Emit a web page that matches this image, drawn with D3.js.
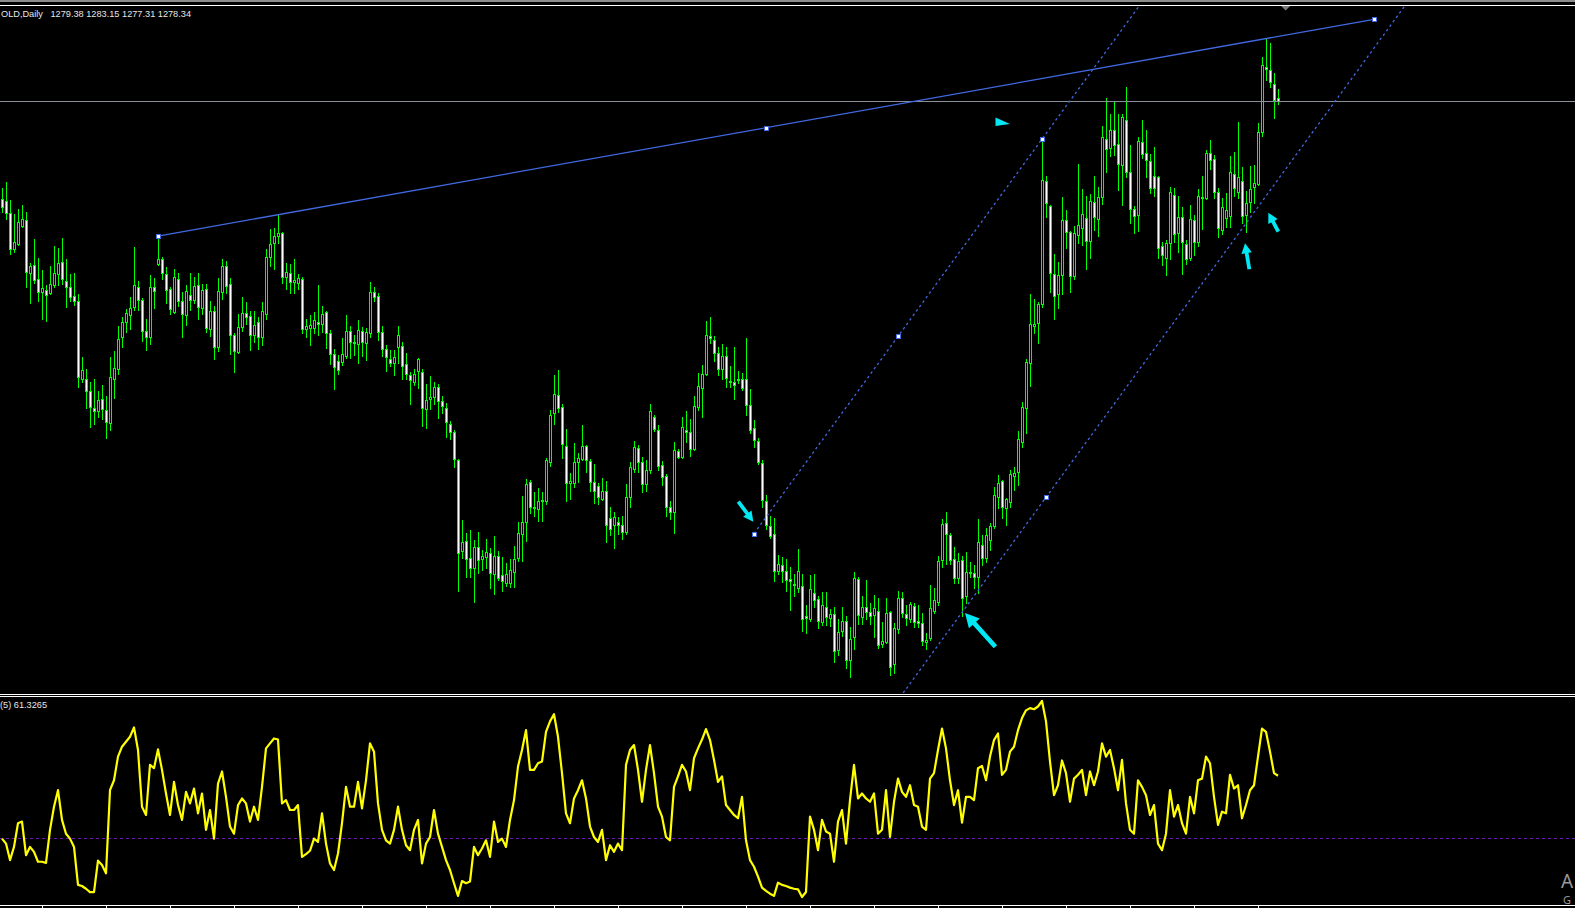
<!DOCTYPE html>
<html><head><meta charset="utf-8">
<script src="https://cdn.jsdelivr.net/npm/d3@7"></script>
<style>html,body{margin:0;padding:0;background:#000;overflow:hidden}svg{display:block}</style>
</head><body>
<svg id="c" width="1575" height="908"></svg>
<script>
// ---------- DATA ----------
const open = [
1239.1,1238.3,1233.5,1219.1,1221.1,1228.3,1230.7,1209.5,1212.7,1207.1,
1201.9,1202.7,1201.5,1204.7,1209.1,1213.9,1206.3,1203.9,1200.3,1198.3,
1167.1,1167.1,1162.3,1155.5,1154.3,1159.1,1154.7,1149.5,1167.1,1171.1,
1183.9,1189.9,1192.7,1195.9,1203.9,1198.7,1186.3,1183.9,1203.9,1213.1,
1215.1,1209.1,1203.1,1193.9,1207.1,1198.3,1192.7,1200.7,1198.7,1204.7,
1195.5,1203.1,1187.1,1194.3,1179.9,1201.9,1212.3,1205.1,1184.7,1177.9,
1187.9,1193.5,1192.3,1184.7,1189.9,1183.9,1193.1,1215.9,1221.5,1224.3,
1225.5,1207.9,1209.5,1205.9,1205.5,1207.1,1187.1,1187.5,1187.5,1189.9,
1189.1,1193.9,1185.5,1177.1,1174.3,1173.9,1176.3,1186.3,1181.9,1181.1,
1186.3,1181.5,1185.5,1201.9,1200.3,1185.9,1179.1,1175.1,1173.5,1179.9,
1180.3,1173.1,1168.7,1165.9,1170.3,1169.9,1155.1,1159.1,1159.9,1163.9,
1158.3,1155.5,1149.1,1145.9,1134.7,1098.3,1102.3,1095.5,1091.5,1099.9,
1095.1,1095.9,1097.5,1089.1,1096.3,1088.7,1085.5,1085.5,1089.9,1095.5,
1105.1,1109.9,1125.9,1115.9,1115.1,1118.3,1118.3,1133.9,1153.5,1160.7,
1155.9,1140.3,1125.5,1125.5,1133.9,1135.1,1140.3,1134.3,1125.9,1124.3,
1119.1,1122.3,1111.5,1108.7,1109.9,1108.7,1105.9,1119.9,1131.1,1139.5,
1133.9,1125.1,1130.7,1151.9,1146.7,1132.7,1128.3,1115.9,1113.9,1138.3,
1135.9,1146.7,1145.9,1139.1,1155.9,1163.5,1169.1,1184.3,1182.7,1177.5,
1171.1,1176.3,1166.3,1165.9,1166.7,1167.1,1167.1,1156.7,1147.5,1142.3,
1133.5,1118.3,1108.3,1105.1,1090.3,1092.7,1090.3,1087.1,1085.1,1083.5,
1084.3,1072.3,1071.1,1081.5,1079.1,1069.9,1075.9,1071.5,1073.1,1058.7,
1066.3,1070.3,1054.7,1063.9,1087.1,1071.9,1075.9,1073.9,1072.7,1074.3,
1061.1,1061.9,1073.9,1053.1,1067.1,1079.5,1073.1,1071.1,1076.3,1070.3,
1069.5,1061.9,1063.5,1074.3,1077.9,1094.7,1109.5,1104.7,1095.1,1087.5,
1094.7,1080.3,1089.9,1089.5,1087.9,1100.7,1095.5,1102.7,1108.3,1119.9,
1126.3,1115.5,1117.9,1128.3,1129.9,1141.9,1155.5,1173.5,1188.3,1189.5,
1197.1,1246.3,1236.3,1209.1,1201.1,1208.7,1230.7,1225.9,1208.3,1224.7,
1227.5,1231.5,1222.3,1237.9,1231.1,1239.9,1263.1,1259.5,1266.7,1261.1,
1252.7,1270.7,1249.9,1235.1,1232.7,1261.9,1257.5,1254.3,1248.3,1247.9,
1220.3,1215.5,1221.5,1240.7,1225.5,1231.9,1221.1,1215.5,1230.7,1221.9,
1239.9,1239.5,1257.5,1255.1,1241.9,1226.7,1231.5,1232.3,1249.1,1241.9,
1246.3,1232.7,1237.9,1243.9,1245.1,1265.9,1291.9,1290.7,1285.1,1279.38];
const high = [
1243.5,1245.9,1238.7,1233.1,1235.1,1236.7,1233.9,1213.5,1223.1,1215.5,
1210.7,1204.7,1212.3,1220.3,1219.5,1223.5,1215.1,1209.1,1209.5,1201.1,
1175.9,1171.1,1165.9,1167.1,1162.3,1164.7,1160.3,1175.9,1178.3,1188.3,
1191.9,1195.1,1199.9,1219.9,1206.3,1199.5,1191.1,1208.7,1207.5,1224.3,
1215.9,1211.9,1203.9,1211.1,1209.5,1201.9,1204.7,1209.5,1207.9,1209.5,
1205.1,1205.1,1198.3,1196.3,1207.5,1215.1,1214.3,1207.5,1185.5,1193.1,
1199.9,1197.9,1194.3,1194.3,1191.9,1197.9,1219.1,1227.1,1227.5,1232.7,
1225.9,1213.5,1213.1,1215.1,1209.1,1207.9,1191.1,1192.7,1193.9,1204.7,
1196.3,1194.3,1186.7,1179.1,1176.7,1183.5,1192.7,1188.3,1184.7,1190.7,
1187.9,1187.5,1205.9,1203.9,1201.5,1188.3,1180.7,1178.7,1178.7,1188.3,
1181.9,1177.5,1169.9,1171.1,1175.5,1171.1,1165.1,1168.3,1165.9,1165.1,
1160.3,1157.5,1150.3,1146.7,1135.1,1110.7,1105.5,1106.7,1102.7,1105.9,
1098.7,1103.1,1099.5,1104.3,1098.3,1095.9,1093.5,1095.1,1100.3,1109.9,
1120.3,1127.1,1126.7,1121.9,1123.5,1121.9,1135.5,1154.7,1168.7,1170.7,
1157.1,1147.1,1129.5,1141.5,1137.5,1148.7,1140.7,1135.1,1133.1,1125.5,
1127.5,1126.3,1115.9,1113.9,1111.9,1112.3,1125.1,1133.9,1142.3,1140.7,
1135.9,1134.7,1157.1,1152.7,1148.7,1134.3,1129.1,1118.3,1141.9,1139.1,
1151.9,1154.3,1151.1,1160.3,1169.5,1172.7,1190.3,1191.9,1184.3,1179.9,
1181.1,1179.9,1172.3,1179.9,1170.3,1169.5,1183.5,1163.1,1150.7,1143.5,
1134.7,1120.7,1112.3,1111.5,1096.7,1095.9,1095.1,1091.9,1089.1,1099.1,
1089.1,1076.7,1088.7,1089.1,1080.3,1081.9,1081.9,1075.1,1075.9,1071.1,
1075.9,1072.3,1067.9,1089.9,1087.9,1080.3,1086.7,1077.5,1080.7,1079.5,
1069.9,1079.5,1074.3,1069.5,1082.3,1081.9,1076.7,1077.9,1077.5,1076.7,
1073.5,1065.5,1084.7,1083.5,1096.3,1111.1,1113.9,1105.5,1099.9,1097.5,
1096.3,1097.9,1093.9,1092.7,1111.1,1104.7,1107.5,1109.5,1123.9,1128.7,
1126.7,1119.5,1130.7,1131.9,1146.3,1157.9,1175.1,1201.1,1199.1,1197.9,
1263.1,1248.3,1236.7,1217.1,1213.9,1239.9,1234.7,1226.3,1228.3,1253.1,
1243.1,1240.3,1241.1,1248.3,1243.9,1268.3,1279.5,1273.1,1277.9,1273.1,
1273.1,1283.9,1260.7,1236.3,1263.9,1270.7,1266.7,1257.1,1259.9,1248.3,
1221.9,1222.7,1243.9,1243.5,1240.3,1235.9,1222.7,1236.7,1232.7,1243.1,
1248.3,1258.7,1262.7,1256.7,1243.5,1239.5,1241.5,1256.3,1257.9,1269.9,
1251.9,1242.3,1252.3,1252.7,1269.5,1295.9,1303.1,1301.5,1289.5,1283.15];
const low = [
1233.9,1231.1,1217.1,1217.9,1220.7,1227.9,1203.9,1197.5,1205.5,1198.3,
1191.1,1190.3,1201.1,1203.9,1204.7,1205.1,1195.9,1198.3,1196.7,1163.9,
1165.9,1155.5,1147.9,1149.1,1151.9,1151.1,1143.5,1146.7,1159.5,1169.1,
1179.9,1185.9,1187.1,1194.7,1194.7,1182.3,1178.7,1181.1,1195.5,1212.7,
1207.1,1197.5,1193.1,1193.5,1196.3,1183.9,1188.7,1194.7,1197.5,1191.1,
1193.1,1185.9,1184.3,1175.1,1178.3,1199.1,1201.5,1177.1,1169.9,1177.5,
1186.3,1189.1,1178.7,1181.9,1179.1,1180.7,1191.1,1212.3,1211.1,1221.5,
1205.5,1203.1,1201.5,1201.5,1203.1,1185.5,1183.9,1180.7,1185.5,1184.7,
1185.9,1179.5,1173.1,1163.1,1169.1,1172.7,1175.5,1175.5,1176.7,1173.5,
1176.3,1174.7,1183.9,1198.3,1182.7,1176.3,1170.3,1172.3,1168.7,1173.5,
1167.1,1167.1,1157.1,1164.7,1163.5,1148.3,1147.5,1155.1,1157.1,1151.5,
1153.5,1143.9,1143.1,1131.9,1082.3,1095.5,1087.9,1087.9,1077.9,1089.5,
1090.7,1091.5,1083.5,1081.1,1086.7,1082.3,1084.3,1083.9,1083.9,1094.3,
1094.3,1102.3,1113.5,1112.3,1110.3,1110.3,1117.1,1132.3,1149.1,1153.9,
1135.5,1118.3,1119.1,1123.9,1125.9,1134.7,1129.9,1122.3,1117.5,1117.1,
1118.7,1101.9,1104.7,1099.5,1105.1,1103.1,1105.1,1115.9,1129.9,1129.9,
1121.9,1122.3,1129.5,1146.3,1130.7,1124.7,1112.3,1111.1,1105.5,1135.5,
1135.5,1141.9,1136.3,1138.7,1154.7,1151.9,1168.7,1181.5,1174.3,1168.7,
1167.1,1163.9,1163.9,1159.1,1165.5,1162.7,1152.7,1145.5,1139.9,1133.1,
1115.9,1107.1,1103.5,1086.3,1089.1,1085.9,1082.3,1074.7,1080.3,1081.9,
1066.3,1065.5,1070.3,1075.9,1067.5,1068.7,1068.7,1068.3,1053.9,1056.7,
1064.3,1051.5,1047.9,1059.1,1069.1,1069.1,1071.1,1069.1,1063.9,1059.5,
1059.9,1061.5,1048.7,1049.5,1065.5,1071.9,1068.7,1069.9,1067.9,1067.9,
1060.7,1059.1,1062.7,1073.5,1076.7,1091.9,1093.1,1093.1,1085.5,1085.5,
1072.3,1077.5,1087.9,1083.5,1081.5,1092.7,1093.9,1098.7,1107.5,1115.5,
1111.5,1108.7,1115.9,1122.7,1124.7,1139.9,1145.5,1164.3,1185.5,1181.5,
1195.9,1231.9,1201.9,1191.1,1195.5,1201.1,1219.5,1201.9,1207.1,1221.5,
1220.7,1211.1,1215.5,1226.7,1224.3,1237.1,1249.9,1256.3,1256.7,1242.7,
1236.7,1247.9,1229.5,1225.5,1226.3,1255.5,1247.9,1241.5,1240.3,1215.5,
1212.7,1208.7,1215.1,1221.9,1217.9,1209.1,1213.1,1214.7,1216.7,1220.3,
1227.1,1239.1,1251.1,1239.5,1223.9,1225.1,1227.9,1227.9,1240.3,1239.5,
1229.5,1225.9,1233.9,1237.5,1244.7,1264.3,1286.7,1283.9,1271.5,1277.31];
const close = [
1235.9,1233.5,1219.1,1221.9,1229.9,1231.1,1209.9,1212.3,1206.7,1201.9,
1203.5,1200.7,1205.1,1209.5,1213.5,1207.1,1203.9,1199.9,1198.3,1167.9,
1170.7,1162.3,1155.9,1154.3,1158.7,1155.1,1149.9,1167.9,1171.5,1183.1,
1189.9,1193.5,1195.5,1204.7,1198.7,1186.3,1183.9,1203.9,1202.3,1215.1,
1209.5,1202.7,1195.1,1207.9,1198.3,1193.1,1202.3,1198.7,1204.3,1195.9,
1202.7,1187.5,1194.3,1179.9,1202.3,1212.3,1204.3,1184.7,1178.3,1187.9,
1193.5,1191.9,1184.7,1188.7,1183.9,1194.3,1215.9,1221.1,1224.3,1225.5,
1207.9,1209.9,1205.9,1206.7,1207.5,1187.1,1188.3,1188.7,1190.7,1189.1,
1193.1,1185.5,1177.1,1171.9,1170.7,1177.1,1186.3,1181.9,1181.5,1186.7,
1181.9,1185.9,1201.9,1199.9,1185.9,1179.1,1175.9,1173.5,1175.9,1184.7,
1172.3,1169.1,1166.7,1169.1,1175.1,1155.5,1158.7,1159.9,1163.9,1158.3,
1156.3,1149.9,1145.9,1135.1,1097.5,1101.9,1095.1,1091.5,1099.9,1094.7,
1096.3,1097.9,1089.5,1096.3,1087.5,1086.3,1089.1,1090.7,1095.1,1105.5,
1109.9,1125.1,1115.9,1115.5,1118.3,1118.7,1134.7,1152.7,1161.1,1155.5,
1141.1,1125.5,1126.3,1133.9,1135.5,1140.3,1134.7,1125.9,1122.3,1119.9,
1122.3,1108.7,1107.1,1111.9,1108.7,1105.9,1119.9,1131.9,1139.9,1133.9,
1125.1,1130.7,1154.3,1147.1,1132.3,1127.9,1115.9,1113.9,1138.7,1135.9,
1147.9,1145.9,1139.1,1156.3,1164.3,1169.1,1184.7,1183.5,1177.5,1171.1,
1176.3,1167.5,1165.9,1164.7,1167.1,1163.5,1156.7,1146.7,1142.7,1133.9,
1118.7,1108.7,1104.3,1090.3,1093.1,1090.3,1086.7,1086.3,1084.7,1090.3,
1071.1,1071.5,1083.1,1078.7,1070.3,1076.7,1071.9,1073.1,1058.3,1065.9,
1070.3,1054.7,1063.1,1087.5,1072.7,1075.9,1073.9,1072.3,1075.5,1060.7,
1062.3,1073.5,1051.9,1067.5,1079.5,1073.5,1071.5,1077.1,1069.9,1069.5,
1062.3,1062.7,1075.5,1078.7,1094.3,1109.1,1105.1,1094.7,1087.5,1094.3,
1079.5,1089.9,1089.5,1087.9,1101.9,1095.5,1104.7,1108.3,1120.7,1125.5,
1115.9,1119.1,1129.1,1129.5,1143.1,1155.9,1173.9,1189.1,1189.1,1197.1,
1246.7,1237.5,1209.5,1200.3,1208.7,1230.7,1225.9,1208.3,1225.5,1228.7,
1233.1,1222.3,1238.3,1231.9,1239.9,1263.9,1259.1,1266.7,1260.7,1253.1,
1271.9,1249.9,1235.1,1232.3,1262.3,1257.1,1254.7,1243.5,1243.5,1219.5,
1216.7,1221.5,1241.9,1225.1,1231.9,1221.9,1215.1,1231.1,1221.9,1240.3,
1239.5,1257.5,1254.7,1241.9,1227.5,1235.9,1234.7,1249.9,1243.5,1247.9,
1232.3,1237.5,1243.1,1245.5,1265.9,1292.7,1291.1,1285.9,1278.7,1278.34];
const indicator = [
49.9,49.0,46.0,48.4,52.7,53.0,46.9,48.4,47.5,45.7,
45.7,45.5,51.5,55.7,58.7,53.3,50.8,49.9,48.4,41.5,
41.3,40.8,40.2,40.2,45.9,45.1,43.6,58.7,60.5,64.8,
66.6,67.5,68.4,70.1,66.0,55.7,54.2,63.3,62.7,66.1,
62.4,58.1,54.2,60.2,56.0,53.3,58.4,56.3,59.0,54.5,
58.1,51.5,55.1,49.9,59.9,62.1,57.5,52.1,50.8,56.0,
57.2,56.3,53.0,55.7,53.3,59.3,66.3,67.2,68.1,67.9,
56.3,56.9,55.1,55.1,56.0,46.6,47.1,47.7,49.9,49.3,
54.5,49.0,45.4,44.2,47.2,52.7,59.3,55.7,55.7,60.2,
55.4,60.5,67.2,65.7,56.3,51.5,49.6,49.0,51.5,55.7,
51.5,48.7,47.8,51.5,53.3,45.4,49.0,50.2,55.1,50.8,
48.4,46.0,44.2,41.8,39.5,42.2,41.8,42.1,48.4,46.9,
48.1,49.6,46.6,53.0,49.3,49.9,48.4,53.3,56.9,63.0,
66.0,69.6,62.4,62.4,63.6,63.9,69.3,71.2,72.5,68.4,
61.8,54.5,52.7,57.2,58.7,60.5,57.2,52.1,50.2,49.3,
51.5,46.0,48.7,47.5,49.0,47.8,63.3,66.0,66.9,62.4,
56.6,62.4,66.9,61.8,55.7,53.9,50.2,49.6,59.3,61.2,
63.3,62.1,58.7,64.5,66.3,67.9,69.8,67.8,64.2,60.2,
61.2,56.0,55.1,54.2,53.6,57.5,49.6,46.0,44.8,43.0,
41.0,40.4,39.9,39.5,41.9,41.5,41.3,41.0,40.8,40.7,
39.3,40.2,53.9,51.5,47.8,53.3,51.2,50.8,45.7,53.0,
55.1,49.0,56.9,63.3,57.2,58.1,57.2,56.6,58.1,50.8,
51.5,58.7,50.2,56.6,60.8,58.4,57.5,59.6,56.0,55.7,
52.1,51.5,60.8,61.8,66.0,69.9,66.3,60.5,56.0,58.7,
52.8,57.5,57.5,56.9,62.7,63.1,60.5,64.8,67.8,69.0,
61.5,62.4,65.7,66.6,69.6,71.8,73.2,73.6,73.4,73.9,
74.9,71.2,63.9,57.8,59.6,64.1,61.8,56.6,60.8,61.5,
62.4,57.8,62.1,59.6,62.1,67.2,64.8,66.0,62.7,58.7,
64.2,56.3,51.5,50.8,60.5,59.3,57.8,54.2,56.0,49.0,
47.8,50.8,58.7,53.9,56.0,52.7,50.8,57.5,54.5,60.5,
60.8,64.8,63.6,57.5,52.4,54.8,54.5,61.5,59.0,59.6,
53.6,56.0,58.7,59.6,64.8,69.9,69.3,65.7,61.8,61.3265];
const indicatorLevel = 50;
const timeTickIdx = d3.range(10, 320, 16);
const trendPoints = [[39, 1224.3], [343, 1311.0]];
const channelPoints = [[188, 1105.3], [260, 1263.1]];
const channelThird = [261, 1119.8];
const arrowsData = [
  [184.08, 1118.06, 187.83, 1110.06],
  [248.35, 1060.02, 240.75, 1073.54],
  [311.83, 1211.02, 310.75, 1221.42],
  [319.08, 1226.06, 316.58, 1233.66]];
const triangleMark = [[248.375, 1271.74], [252, 1269.14], [248.375, 1268.34]];
const shiftIdx = 320.9;
const headerSymbol = "OLD,Daily";
const headerOHLC = ["1279.38", "1283.15", "1277.31", "1278.34"];
const indicatorName = "(5)";
const watermarkTexts = ["A", "G"];

// ---------- DRAW ----------
const svg = d3.select("#c");
const W = 1575, H = 908;
svg.append("rect").attr("width", W).attr("height", H).attr("fill", "#000");

const x = d3.scaleLinear().domain([0, 319]).range([2, 1278]);
const y = d3.scaleLinear().domain([1318.74, 1041.14]).range([0, 694]);
const yi = d3.scaleLinear().domain(d3.extent(indicator)).range([897, 701]);

const defs = svg.append("defs");
defs.append("clipPath").attr("id", "mainClip").append("rect")
  .attr("x", 0).attr("y", 6).attr("width", W).attr("height", 688);
defs.append("clipPath").attr("id", "indClip").append("rect")
  .attr("x", 0).attr("y", 697).attr("width", W).attr("height", 208);

// top frame
svg.append("rect").attr("x", 0).attr("y", 0).attr("width", W).attr("height", 2).attr("fill", "#8c8c8c");
svg.append("rect").attr("x", 0).attr("y", 5).attr("width", W).attr("height", 1).attr("fill", "#ffffff");

const main = svg.append("g").attr("clip-path", "url(#mainClip)").attr("shape-rendering", "crispEdges");

// candles
const LIME = "#00ff00";
const cg = main.append("g");
open.forEach((o, i) => {
  const c = close[i];
  const cx = Math.round(x(i));
  const yh = Math.round(y(high[i])), yl = Math.round(y(low[i]));
  cg.append("rect").attr("x", cx).attr("y", yh).attr("width", 1).attr("height", Math.max(1, yl - yh + 1)).attr("fill", LIME);
  const top = Math.round(y(Math.max(o, c))), bot = Math.round(y(Math.min(o, c)));
  cg.append("rect").attr("x", cx - 1).attr("y", top).attr("width", 3).attr("height", Math.max(1, bot - top + 1)).attr("fill", LIME);
  if (bot - top >= 2) {
    cg.append("rect").attr("x", cx).attr("y", top + 1).attr("width", 1).attr("height", bot - top - 1)
      .attr("fill", c < o ? "#ffffff" : "#000000");
  }
});

// bid line
const lastClose = close[close.length - 1];
main.append("rect").attr("x", 0).attr("y", Math.round(y(lastClose))).attr("width", W).attr("height", 1).attr("fill", "#8a9099");

// trend line
const BLUE = "#4169e1";
const lines = svg.append("g").attr("clip-path", "url(#mainClip)");
lines.append("line")
  .attr("x1", x(trendPoints[0][0])).attr("y1", y(trendPoints[0][1]))
  .attr("x2", x(trendPoints[1][0])).attr("y2", y(trendPoints[1][1]))
  .attr("stroke", BLUE).attr("stroke-width", 1.3);

// channel
const slope = (channelPoints[1][1] - channelPoints[0][1]) / (channelPoints[1][0] - channelPoints[0][0]);
const farIdx = 420;
const upperEnd = channelPoints[0][1] + (farIdx - channelPoints[0][0]) * slope;
lines.append("line")
  .attr("x1", x(channelPoints[0][0])).attr("y1", y(channelPoints[0][1]))
  .attr("x2", x(farIdx)).attr("y2", y(upperEnd))
  .attr("stroke", BLUE).attr("stroke-width", 1.3).attr("stroke-dasharray", "2.5,3");
const lowStart = channelThird[1] + (channelPoints[0][0] - channelThird[0]) * slope;
const lowEnd = channelThird[1] + (farIdx - channelThird[0]) * slope;
lines.append("line")
  .attr("x1", x(channelPoints[0][0])).attr("y1", y(lowStart))
  .attr("x2", x(farIdx)).attr("y2", y(lowEnd))
  .attr("stroke", BLUE).attr("stroke-width", 1.3).attr("stroke-dasharray", "2.5,3");

// anchors
const mid = (a, b) => [(a[0] + b[0]) / 2, (a[1] + b[1]) / 2];
const anchors = [trendPoints[0], mid(trendPoints[0], trendPoints[1]), trendPoints[1],
  channelPoints[0], mid(channelPoints[0], channelPoints[1]), channelPoints[1], channelThird];
const ag = svg.append("g").attr("shape-rendering", "crispEdges");
anchors.forEach(p => {
  const px = Math.round(x(p[0])), py = Math.round(y(p[1]));
  ag.append("rect").attr("x", px - 2).attr("y", py - 2).attr("width", 5).attr("height", 5).attr("fill", BLUE);
  ag.append("rect").attr("x", px - 1).attr("y", py - 1).attr("width", 3).attr("height", 3).attr("fill", "#ffffff");
});

// arrows
const AQUA = "#00e8f4";
function arrowPts(tx, ty, hx, hy) {
  const dx = hx - tx, dy = hy - ty, len = Math.hypot(dx, dy);
  const ux = dx / len, uy = dy / len, nx = -uy, ny = ux;
  const hl = Math.max(10, Math.min(14, len * 0.36)), hw = hl * 1.05, sw = len > 35 ? 4.6 : 3.8;
  const bx = hx - ux * hl, by = hy - uy * hl;
  return [[tx + nx * sw / 2, ty + ny * sw / 2], [bx + nx * sw / 2, by + ny * sw / 2], [bx + nx * hw / 2, by + ny * hw / 2],
    [hx, hy], [bx - nx * hw / 2, by - ny * hw / 2], [bx - nx * sw / 2, by - ny * sw / 2], [tx - nx * sw / 2, ty - ny * sw / 2]];
}
arrowsData.forEach(a => {
  const pts = arrowPts(x(a[0]), y(a[1]), x(a[2]), y(a[3]));
  svg.append("polygon").attr("points", pts.map(p => p.join(",")).join(" ")).attr("fill", AQUA);
});
svg.append("polygon").attr("points", triangleMark.map(p => [x(p[0]), y(p[1])].join(",")).join(" ")).attr("fill", AQUA);

// chart shift marker
const sx = x(shiftIdx);
svg.append("polygon").attr("points", `${sx - 4.5},6 ${sx + 4.5},6 ${sx},10.5`).attr("fill", "#7a7a7a");

// header text
const FONT = "Liberation Sans, Arial, sans-serif";
svg.append("text").attr("x", 1).attr("y", 17).text(headerSymbol)
  .attr("font-family", FONT).attr("font-size", 9.2).attr("fill", "#e6e6e6");
svg.append("text").attr("x", 50.5).attr("y", 17).text(headerOHLC.join(" "))
  .attr("font-family", FONT).attr("font-size", 9.2).attr("fill", "#e6e6e6");

// separators
svg.append("rect").attr("x", 0).attr("y", 694).attr("width", W).attr("height", 1).attr("fill", "#ffffff");
svg.append("rect").attr("x", 0).attr("y", 696).attr("width", W).attr("height", 1).attr("fill", "#ffffff");

// indicator
const ind = svg.append("g").attr("clip-path", "url(#indClip)");
ind.append("line").attr("x1", 0).attr("x2", W).attr("y1", Math.round(yi(indicatorLevel)) + 0.5).attr("y2", Math.round(yi(indicatorLevel)) + 0.5)
  .attr("stroke", "#6a1bb5").attr("stroke-width", 1).attr("stroke-dasharray", "3,3");
ind.append("path").datum(indicator)
  .attr("d", d3.line().x((d, i) => x(i)).y(d => yi(d)))
  .attr("fill", "none").attr("stroke", "#ffff00").attr("stroke-width", 2.2).attr("stroke-linejoin", "round");
svg.append("text").attr("x", 0).attr("y", 708).text(indicatorName + " " + indicator[indicator.length - 1].toFixed(4))
  .attr("font-family", FONT).attr("font-size", 9.2).attr("fill", "#e6e6e6");

// bottom time axis
svg.append("rect").attr("x", 0).attr("y", 905).attr("width", W).attr("height", 1).attr("fill", "#ffffff");
const ax = svg.append("g").attr("transform", "translate(0,905.5)")
  .call(d3.axisBottom(x).tickValues(timeTickIdx).tickSize(4).tickFormat(""));
ax.select(".domain").remove();
ax.selectAll(".tick line").attr("stroke", "#ffffff").attr("shape-rendering", "crispEdges");

// OS watermark letters (only these are visible at the window edge)
svg.append("text").attr("x", 1561).attr("y", 888).text(watermarkTexts[0])
  .attr("font-family", "Noto Sans, Open Sans, sans-serif").attr("font-size", 19).attr("fill", "#9a9a9a");
svg.append("text").attr("x", 1563).attr("y", 903.5).text(watermarkTexts[1])
  .attr("font-family", "Noto Sans, Open Sans, sans-serif").attr("font-size", 11).attr("fill", "#9a9a9a");
</script>
</body></html>
